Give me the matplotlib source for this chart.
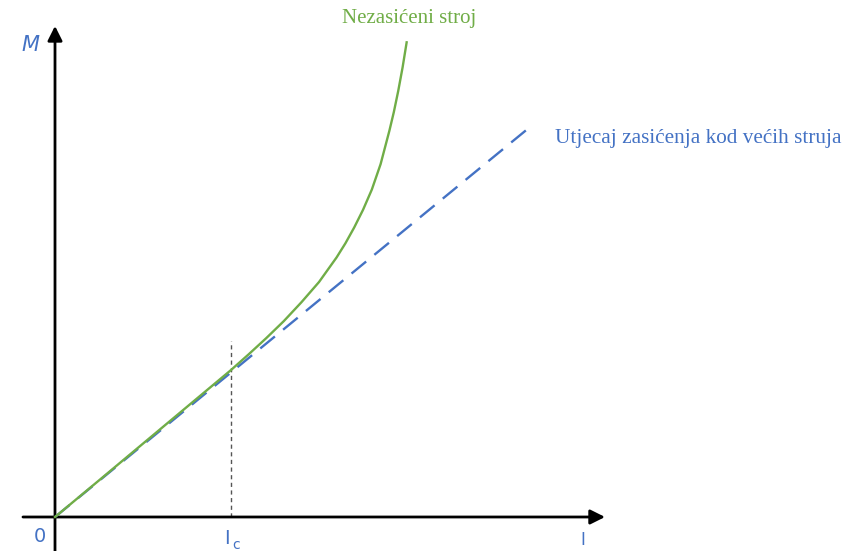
import matplotlib
matplotlib.use("Agg")
import matplotlib.pyplot as plt

# Torque vs. current characteristic of a series machine (I_c = 1 unit)
green_I = [0.0, 0.25, 0.5, 0.75, 1.0, 1.1, 1.2, 1.3, 1.4, 1.5, 1.6, 1.65,
           1.7, 1.75, 1.8, 1.85, 1.9, 1.925, 1.95, 1.975, 1.998]
green_M = [0.0, 0.208, 0.417, 0.626, 0.835, 0.924, 1.016, 1.113, 1.220,
           1.335, 1.475, 1.555, 1.645, 1.745, 1.860, 2.005, 2.195, 2.300,
           2.420, 2.555, 2.697]

# Linear characteristic with saturation at higher currents
sat_I = [0.0, 2.699]
sat_M = [0.0, 2.216]

Ic = 1.0
Ic_marker_top = 1.0

GREEN = "#70AD47"
BLUE = "#4472C4"

fig = plt.figure(figsize=(8.45, 5.51), dpi=100)
ax = fig.add_axes([0, 0, 1, 1])
ax.set_xlim(-0.3125, 4.4886)
ax.set_ylim(-0.1932, 2.9375)
ax.axis("off")

# Axes with arrowheads
ax.annotate("", xy=(3.125, 0), xytext=(-0.182, 0),
            arrowprops=dict(arrowstyle="-|>", lw=2.0, color="black",
                            mutation_scale=22, shrinkA=0, shrinkB=0))
ax.annotate("", xy=(0, 2.790), xytext=(0, -0.20),
            arrowprops=dict(arrowstyle="-|>", lw=2.0, color="black",
                            mutation_scale=22, shrinkA=0, shrinkB=0))

# Marker for I_c
ax.plot([Ic, Ic], [0, Ic_marker_top], color="#555555", lw=1.0,
        linestyle=(0, (3, 2.5)), zorder=2)

# Curves
ax.plot(sat_I, sat_M, color=BLUE, lw=1.7, linestyle=(0, (8, 4.5)), zorder=3)
ax.plot(green_I, green_M, color=GREEN, lw=1.7, zorder=4,
        solid_joinstyle="round")

# Axis labels
ax.text(-0.142, 2.682, "M", color=BLUE, fontsize=15, style="italic",
        ha="center", va="center")
ax.text(-0.085, -0.108, "0", color=BLUE, fontsize=14, ha="center", va="center")
ax.text(Ic - 0.008, -0.068, "I", color=BLUE, fontsize=14, ha="right", va="top")
ax.text(Ic + 0.005, -0.118, "c", color=BLUE, fontsize=10, ha="left", va="top")
ax.text(3.0, -0.160, "I", color=BLUE, fontsize=12, ha="center",
        va="baseline")

# Curve annotations
ax.text(2.011, 2.807, "Nezasićeni stroj", color=GREEN, fontsize=15,
        family="Liberation Serif", ha="center", va="baseline")
ax.text(2.841, 2.125, "Utjecaj zasićenja kod većih struja", color=BLUE,
        fontsize=15.3, family="Liberation Serif", ha="left", va="baseline")

fig.savefig("out.png", dpi=100)
